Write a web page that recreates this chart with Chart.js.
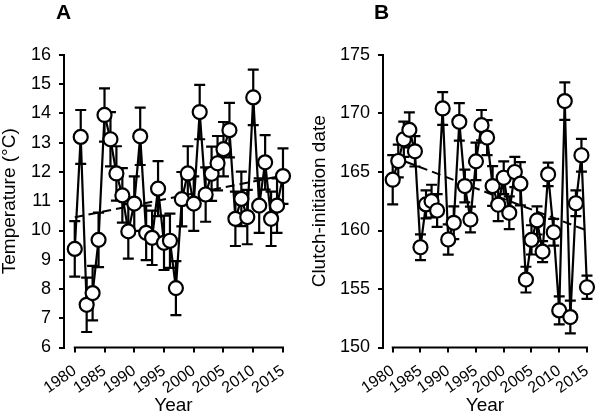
<!DOCTYPE html>
<html>
<head>
<meta charset="utf-8">
<script src="https://cdn.jsdelivr.net/npm/chart.js@4"></script>
<style>
html, body { margin: 0; padding: 0; background: #fff; }
#wrap { position: relative; width: 607px; height: 413px; }
canvas { position: absolute; top: 0; }
.lab { position: absolute; top: 0; font: bold 21px 'Liberation Sans', Arial, sans-serif; color: #000; }
</style>
</head>
<body>
<div id="wrap">
  <canvas id="chartA" width="303" height="413" style="left:0"></canvas>
  <canvas id="chartB" width="304" height="413" style="left:303px"></canvas>
  <div class="lab" style="left:56px">A</div>
  <div class="lab" style="left:374px">B</div>
</div>
<script>
var years = [1980, 1981, 1982, 1983, 1984, 1985, 1986, 1987, 1988, 1989,
             1990, 1991, 1992, 1993, 1994, 1995, 1996, 1997, 1998, 1999,
             2000, 2001, 2002, 2003, 2004, 2005, 2006, 2007, 2008, 2009,
             2010, 2011, 2012, 2013, 2014, 2015];

// panel A: temperature (°C) with SE
var tempA = [9.37, 13.2, 7.46, 7.86, 9.68, 13.95, 13.12, 11.95, 11.2, 9.97,
             10.92, 13.22, 9.92, 9.75, 11.43, 9.58, 9.65, 8.03, 11.07, 11.95,
             10.92, 14.05, 11.23, 11.94, 12.3, 12.78, 13.43, 10.4, 11.08, 10.46,
             14.55, 10.85, 12.33, 10.4, 10.85, 11.86];
var tempErr = [0.95, 0.92, 0.93, 0.93, 0.93, 0.91, 0.93, 0.93, 0.93, 0.93,
               0.93, 0.98, 0.93, 0.93, 0.94, 0.93, 0.93, 0.92, 0.93, 0.93,
               0.93, 0.93, 0.93, 0.93, 0.93, 0.93, 0.93, 0.93, 0.93, 0.93,
               0.95, 0.93, 0.93, 0.93, 0.93, 0.95];

// panel B: clutch-initiation date with SE
var dateB = [164.34, 165.94, 167.8, 168.6, 166.77, 158.57, 162.23, 162.51, 161.71, 170.43,
             159.23, 160.66, 169.29, 163.8, 160.94, 165.91, 169.0, 167.94, 163.8, 162.2,
             164.51, 161.51, 165.0, 164.0, 155.8, 159.2, 160.86, 158.2, 164.8, 159.85,
             153.17, 171.06, 152.6, 162.33, 166.43, 155.15];
var dateErr = [2.1, 1.4, 1.5, 1.5, 1.3, 1.1, 1.2, 1.4, 1.4, 1.4,
               1.3, 1.4, 1.6, 1.4, 1.1, 1.6, 1.3, 1.5, 1.7, 1.4,
               1.4, 1.4, 1.3, 1.85, 1.1, 1.25, 1.2, 0.9, 1.0, 1.15,
               1.2, 1.6, 1.4, 1.1, 1.4, 1.0];

// dashed linear trends
var trendYears = [1980, 2015];
var trendA = [10.45, 11.88];
var trendB = [166.3, 160.0];

var xTicks = [1980, 1985, 1990, 1995, 2000, 2005, 2010, 2015];
var yTicksA = [6, 7, 8, 9, 10, 11, 12, 13, 14, 15, 16];
var yTicksB = [150, 155, 160, 165, 170, 175];

Chart.defaults.font.family = "'Liberation Sans', Arial, sans-serif";
Chart.defaults.color = '#000';

// error bars + x axis line (starts at the first year tick, not at the y axis)
var errorBars = {
  id: 'errorBars',
  beforeDatasetsDraw: function (chart) {
    var ctx = chart.ctx;
    var xs = chart.scales.x, ys = chart.scales.y;
    var ds = chart.data.datasets[0];
    ctx.save();
    ctx.strokeStyle = '#000';
    ctx.lineWidth = 2.2;
    ds.data.forEach(function (p, i) {
      var e = ds.errors[i];
      var px = xs.getPixelForValue(p.x);
      var top = ys.getPixelForValue(p.y + e);
      var bot = ys.getPixelForValue(p.y - e);
      ctx.beginPath();
      ctx.moveTo(px, top); ctx.lineTo(px, bot);
      ctx.moveTo(px - 5.5, top); ctx.lineTo(px + 5.5, top);
      ctx.moveTo(px - 5.5, bot); ctx.lineTo(px + 5.5, bot);
      ctx.stroke();
    });
    var yb = chart.chartArea.bottom;
    ctx.lineWidth = 2;
    ctx.beginPath();
    ctx.moveTo(xs.getPixelForValue(xTicks[0]) - 1, yb);
    ctx.lineTo(xs.getPixelForValue(xTicks[xTicks.length - 1]) + 1, yb);
    ctx.stroke();
    ctx.restore();
  }
};

function makeChart(id, values, errors, trend, yTicks, xMin, yTitle, yWidth, titlePad, padRight) {
  return new Chart(document.getElementById(id).getContext('2d'), {
    type: 'line',
    data: {
      datasets: [{
        data: years.map(function (yr, i) { return {x: yr, y: values[i]}; }),
        errors: errors,
        borderColor: '#000',
        borderWidth: 2.2,
        pointRadius: 7,
        pointBorderWidth: 2.2,
        pointBackgroundColor: '#fff',
        pointBorderColor: '#000',
        tension: 0,
        clip: false,
        order: 0
      }, {
        data: trendYears.map(function (yr, i) { return {x: yr, y: trend[i]}; }),
        borderColor: '#000',
        borderWidth: 2,
        borderDash: [9, 5],
        pointRadius: 0,
        clip: false,
        order: 1
      }]
    },
    options: {
      responsive: false,
      animation: false,
      events: [],
      layout: {padding: {left: 0, top: 55, right: padRight, bottom: 0}},
      plugins: {legend: {display: false}, tooltip: {enabled: false}},
      scales: {
        x: {
          type: 'linear',
          min: xMin,
          max: 2015,
          afterBuildTicks: function (s) { s.ticks = xTicks.map(function (v) { return {value: v}; }); },
          afterFit: function (s) { s.height = 65.5; },
          border: {display: false},
          grid: {drawOnChartArea: false, color: '#000', lineWidth: 2, tickLength: 5},
          ticks: {color: '#000', font: {size: 16}, autoSkip: false, minRotation: 35, maxRotation: 35, padding: 9,
                  callback: function (v) { return String(v); }},
          title: {display: true, text: 'Year', color: '#000', font: {size: 19, lineHeight: 1},
                  padding: {top: 0, bottom: -2}}
        },
        y: {
          min: yTicks[0],
          max: yTicks[yTicks.length - 1],
          afterBuildTicks: function (s) { s.ticks = yTicks.map(function (v) { return {value: v}; }); },
          afterFit: function (s) { s.width = yWidth; },
          border: {display: true, color: '#000', width: 2},
          grid: {drawOnChartArea: false, color: '#000', lineWidth: 2, tickLength: 5},
          ticks: {color: '#000', font: {size: 18}, padding: 8},
          title: {display: true, text: yTitle, color: '#000', font: {size: 19, lineHeight: 1},
                  padding: {top: titlePad, bottom: 0}}
        }
      }
    },
    plugins: [errorBars]
  });
}

makeChart('chartA', tempA, tempErr, trendA, yTicksA, 1978.19, 'Temperature (°C)', 64, 0.5, 15.7);
makeChart('chartB', dateB, dateErr, trendB, yTicksB, 1978.25, 'Clutch-initiation date', 80, 7, 7.7);
</script>
</body>
</html>
